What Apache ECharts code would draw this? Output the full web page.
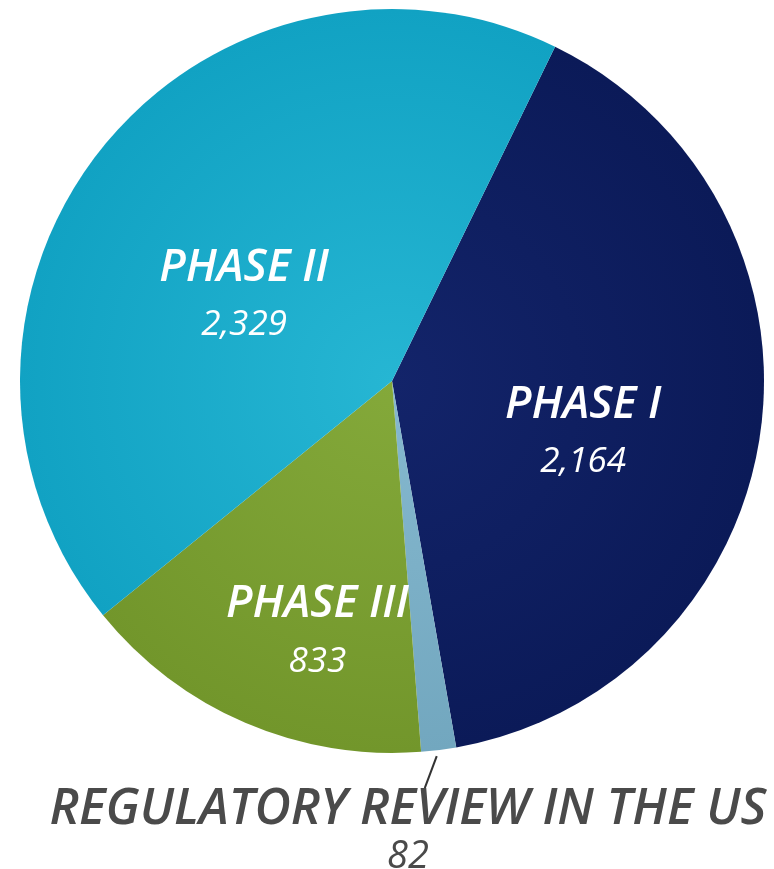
<!DOCTYPE html>
<html>
<head>
<meta charset="utf-8">
<script src="https://cdn.jsdelivr.net/npm/echarts@6/dist/echarts.min.js"></script>
<style>
  html, body { margin: 0; padding: 0; background: #fff; }
  #chart { width: 774px; height: 869px; }
</style>
</head>
<body>
<div id="chart"></div>
<script>
// clinical pipeline counts, clockwise from top-right
const phaseNames = ['PHASE I', 'REGULATORY REVIEW IN THE US', 'PHASE III', 'PHASE II']
const phaseValues = [2164, 82, 833, 2329]
const phaseColors = [
  ['#13246a', '#0b1a58'],
  ['#86b9cf', '#72a7bf'],
  ['#84a93a', '#72962b'],
  ['#26b6d3', '#11a2c3']
]
// small nudges for label placement (dx, dy)
const labelNudge = [[4, 20], [0, 0], [0, 72], [0, 27]]

const cx = 392
const cy = 381
const radius = 372

const chart = echarts.init(document.getElementById('chart'))

const seriesData = phaseNames.map((name, i) => {
  const item = {
    name: name,
    value: phaseValues[i],
    itemStyle: {
      color: {
        type: 'radial',
        x: cx, y: cy, r: radius,
        global: true,
        colorStops: [
          { offset: 0, color: phaseColors[i][0] },
          { offset: 1, color: phaseColors[i][1] }
        ]
      }
    }
  }
  if (i === 1) {
    item.label = {
      position: 'outside',
      overflow: 'none',
      width: 770,
      formatter: (p) => '{r|' + p.name + '}\n{rv|' + p.value + '}'
    }
    item.labelLine = { show: true, length: 20, length2: 0, lineStyle: { color: '#333', width: 2 } }
  }
  return item
})

const option = {
  animation: false,
  series: [
    {
      type: 'pie',
      center: [cx, cy],
      radius: radius,
      startAngle: 64,
      clockwise: true,
      data: seriesData,
      itemStyle: { borderWidth: 0 },
      label: {
        show: true,
        position: 'inside',
        fontFamily: 'Open Sans',
        formatter: (p) => '{n|' + p.name + '}\n{v|' + p.value.toLocaleString('en-US') + '}',
        rich: {
          n: { fontSize: 45, fontStyle: 'italic', fontWeight: 600, color: '#fff', fontFamily: 'Open Sans', lineHeight: 70 },
          v: { fontSize: 35, fontStyle: 'italic', fontWeight: 400, color: '#fff', fontFamily: 'Open Sans', lineHeight: 44 },
          r: { fontSize: 50, fontStyle: 'italic', fontWeight: 600, color: '#4a4a4a', fontFamily: 'Open Sans', lineHeight: 50 },
          rv: { fontSize: 38, fontStyle: 'italic', fontWeight: 400, color: '#4a4a4a', fontFamily: 'Open Sans', lineHeight: 44 }
        }
      },
      labelLine: { show: false },
      labelLayout: (params) => {
        if (params.dataIndex === 1) {
          const start = params.labelLinePoints[0]
          return {
            x: 408,
            y: 785,
            align: 'center',
            verticalAlign: 'top',
            labelLinePoints: [[start[0] - 2, start[1] + 6], [start[0] - 14, start[1] + 38]]
          }
        }
        const n = labelNudge[params.dataIndex]
        return { dx: n[0], dy: n[1] }
      }
    }
  ]
}

chart.setOption(option)
</script>
</body>
</html>
